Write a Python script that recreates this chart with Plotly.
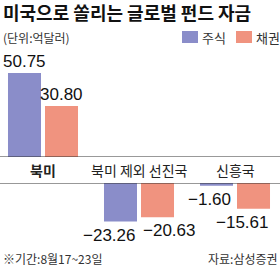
import plotly.graph_objects as go

categories = ["북미", "북미 제외 선진국", "신흥국"]
stock = [50.75, -23.26, -1.60]
bond = [30.80, -20.63, -15.61]
series_names = ["주식", "채권"]
title = "미국으로 쏠리는 글로벌 펀드 자금"
unit = "(단위:억달러)"
note = "※기간:8월17~23일"
source = "자료:삼성증권"

W, H = 280, 270
BLUE = "#8a8dc9"
SALMON = "#f0937f"
NUM_FONT = "Liberation Sans Narrow, Arial Narrow, Liberation Sans, sans-serif"
KR_FONT = "Noto Sans CJK KR, Noto Sans, sans-serif"

def py(px):
    return (H - px) / H

# label placement style for negative values: (xanchor, xshift px from category centre)
NEG_ALIGN = {
    "s": [("right", -2), ("right", -2), ("right", -2)],
    "b": [("left", 2), ("left", 2), ("right", 35)],
}
SLOT_CENTER = {"s": -18.5, "b": 18.5}

idx = list(range(len(categories)))
fig = go.Figure()
for name, vals, col, og in [(series_names[0], stock, BLUE, "s"), (series_names[1], bond, SALMON, "b")]:
    pos = [v if v >= 0 else None for v in vals]
    neg = [v if v < 0 else None for v in vals]
    for part, ax in [(pos, "y"), (neg, "y2")]:
        fig.add_trace(go.Bar(
            x=idx, y=part, name=name, yaxis=ax, offsetgroup=og,
            marker=dict(color=col, line=dict(width=0)),
            cliponaxis=False, showlegend=False, hoverinfo="skip",
        ))
    for i, v in enumerate(vals):
        txt = f"{v:.2f}".replace("-", "−")
        if v >= 0:
            fig.add_annotation(x=i, y=v, xref="x", yref="y", text=txt, showarrow=False,
                               xanchor="center", yanchor="bottom", xshift=SLOT_CENTER[og], yshift=0,
                               font=dict(family=NUM_FONT, size=17, color="#111"))
        else:
            xa, xs = NEG_ALIGN[og][i]
            fig.add_annotation(x=i, y=v, xref="x", yref="y2", text=txt, showarrow=False,
                               xanchor=xa, yanchor="top", xshift=xs, yshift=-2,
                               font=dict(family=NUM_FONT, size=17, color="#111"))

scale = 1.655  # px per unit
top_zero, top_top = 157, 60
bot_zero, bot_bot = 183, 240
fig.update_layout(
    width=W, height=H, margin=dict(l=0, r=0, t=0, b=0),
    paper_bgcolor="white", plot_bgcolor="white",
    barmode="group", bargap=0.229, bargroupgap=0.108,
    xaxis=dict(range=[-43 / 96, (W - 43) / 96], visible=False, domain=[0, 1]),
    yaxis=dict(domain=[py(top_zero), py(top_top)],
               range=[0, (top_zero - top_top) / scale], visible=False),
    yaxis2=dict(domain=[py(bot_bot), py(bot_zero)], anchor="x",
                range=[-(bot_bot - bot_zero) / scale, 0], visible=False),
)

for ref in ["y", "y2"]:
    fig.add_shape(type="line", xref="paper", yref=ref, x0=0, x1=1, y0=0, y1=0,
                  line=dict(color="#333", width=1))

for i, c in enumerate(categories):
    fig.add_annotation(x=i, y=py(170), xref="x", yref="paper", text=(f"<b>{c}</b>" if i == 0 else c),
                       showarrow=False, font=dict(family=KR_FONT, size=14, color="#222"),
                       xanchor="center", yanchor="middle")

fig.add_annotation(x=1 / W, y=py(12), xref="paper", yref="paper", text=f"<b>{title}</b>",
                   showarrow=False, xanchor="left", yanchor="middle",
                   font=dict(family=KR_FONT, size=18, color="#111"))
fig.add_annotation(x=1 / W, y=py(38), xref="paper", yref="paper", text=unit,
                   showarrow=False, xanchor="left", yanchor="middle",
                   font=dict(family=KR_FONT, size=12, color="#333"))

for x0, col, txt in [(182, BLUE, series_names[0]), (236, SALMON, series_names[1])]:
    fig.add_shape(type="rect", xref="paper", yref="paper", x0=x0 / W, x1=(x0 + 16) / W,
                  y0=py(43), y1=py(31), fillcolor=col, line=dict(width=0))
    fig.add_annotation(x=(x0 + 18) / W, y=py(38), xref="paper", yref="paper", text=txt,
                       showarrow=False, xanchor="left", yanchor="middle",
                       font=dict(family=KR_FONT, size=13, color="#333"))

fig.add_annotation(x=1 / W, y=py(258), xref="paper", yref="paper", text=note,
                   showarrow=False, xanchor="left", yanchor="middle",
                   font=dict(family=KR_FONT, size=12, color="#333"))
fig.add_annotation(x=1, y=py(258), xref="paper", yref="paper", text=source,
                   showarrow=False, xanchor="right", yanchor="middle",
                   font=dict(family=KR_FONT, size=12, color="#333"))

fig.write_html("out.html")
